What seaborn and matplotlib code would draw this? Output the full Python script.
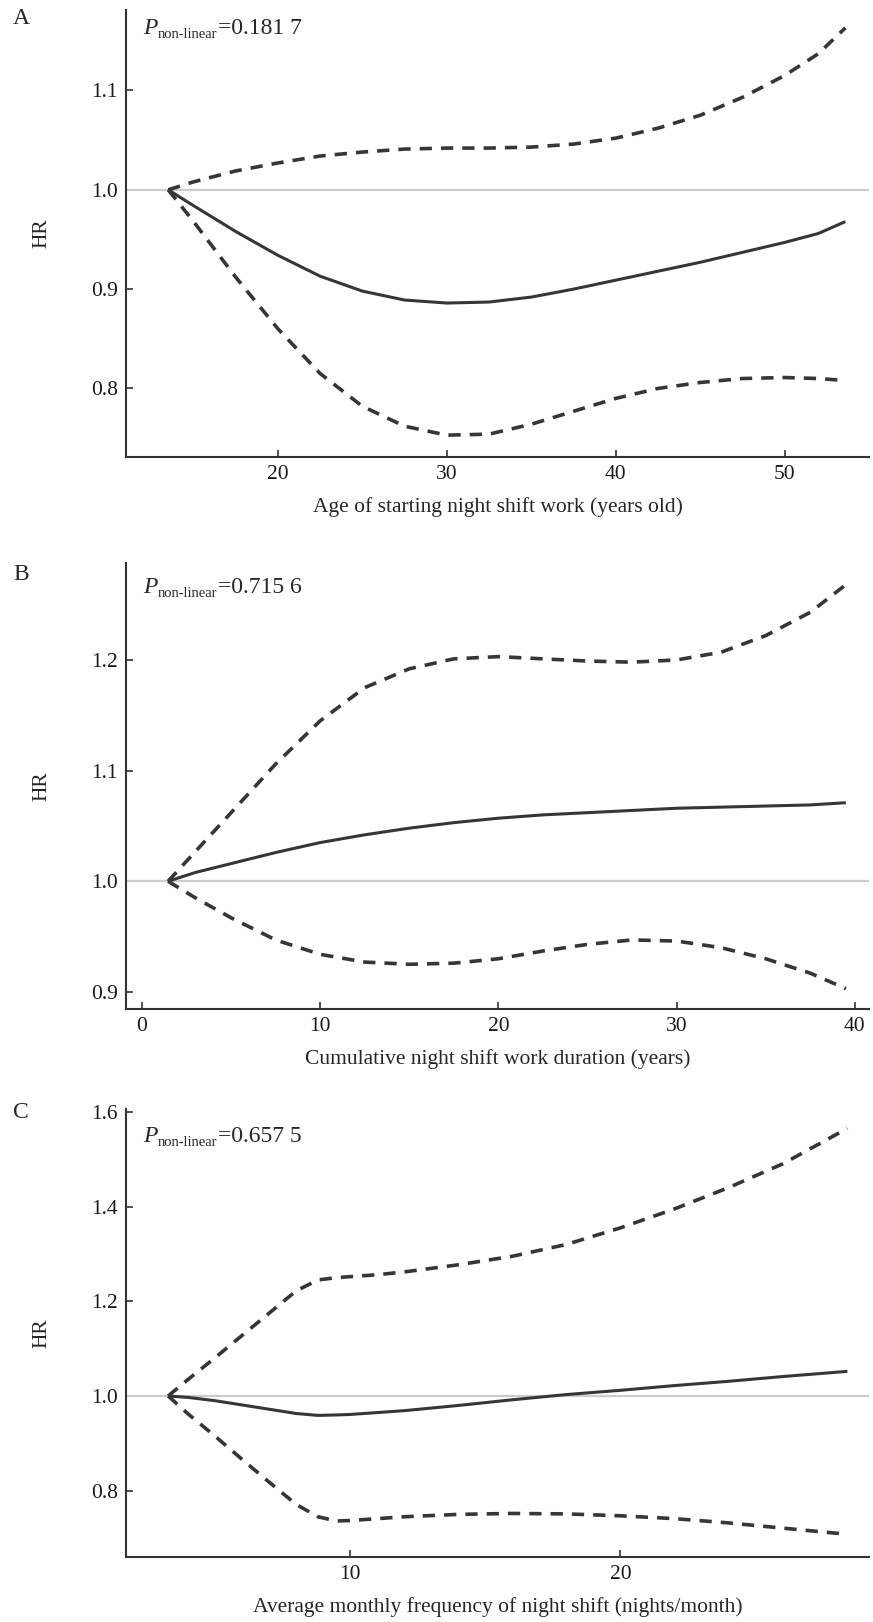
import matplotlib
matplotlib.use("Agg")
import matplotlib.pyplot as plt
import seaborn as sns

# Panel A: age of starting night shift work
age_x  = [13.5, 15, 17.5, 20, 22.5, 25, 27.5, 30, 32.5, 35, 37.5, 40, 42.5, 45, 47.5, 50, 52, 53.6]
age_hr = [1.0, 0.984, 0.958, 0.934, 0.913, 0.898, 0.889, 0.886, 0.887, 0.892, 0.900, 0.909,
          0.918, 0.927, 0.937, 0.947, 0.956, 0.968]
age_lo = [1.0, 0.968, 0.912, 0.860, 0.815, 0.782, 0.762, 0.753, 0.754, 0.764, 0.777, 0.790,
          0.800, 0.806, 0.810, 0.811, 0.810, 0.808]
age_hi = [1.0, 1.008, 1.019, 1.027, 1.034, 1.038, 1.041, 1.042, 1.042, 1.043, 1.046, 1.052,
          1.062, 1.075, 1.093, 1.115, 1.137, 1.163]

# Panel B: cumulative duration (years)
dur_x  = [1.46, 3, 5, 7.5, 10, 12.5, 15, 17.5, 20, 22.5, 25, 27.5, 30, 32.5, 35, 37.5, 39.5]
dur_hr = [1.0, 1.008, 1.016, 1.026, 1.035, 1.042, 1.048, 1.053, 1.057, 1.060, 1.062, 1.064,
          1.066, 1.067, 1.068, 1.069, 1.071]
dur_lo = [1.0, 0.985, 0.967, 0.947, 0.934, 0.927, 0.925, 0.926, 0.930, 0.937, 0.943, 0.947,
          0.946, 0.940, 0.930, 0.917, 0.903]
dur_hi = [1.0, 1.027, 1.062, 1.106, 1.145, 1.175, 1.192, 1.201, 1.203, 1.201, 1.199, 1.198,
          1.200, 1.207, 1.222, 1.243, 1.268]

# Panel C: monthly frequency (nights/month)
frq_x  = [3.26, 4, 5, 6, 7, 8, 8.8, 9.5, 10, 11, 12, 14, 16, 18, 20, 22, 24, 26, 28.4]
frq_hr = [1.0, 0.997, 0.990, 0.981, 0.972, 0.963, 0.959, 0.960, 0.961, 0.965, 0.969, 0.980,
          0.992, 1.003, 1.012, 1.022, 1.031, 1.041, 1.052]
frq_lo = [1.0, 0.962, 0.915, 0.866, 0.818, 0.771, 0.745, 0.736, 0.737, 0.741, 0.745, 0.750,
          0.752, 0.751, 0.747, 0.741, 0.732, 0.721, 0.708]
frq_hi = [1.0, 1.035, 1.081, 1.128, 1.175, 1.222, 1.245, 1.250, 1.252, 1.256, 1.262, 1.277,
          1.295, 1.320, 1.355, 1.395, 1.440, 1.490, 1.565]

sns.set_theme(style="ticks")
plt.rcParams.update({
    "font.family": ["Liberation Serif", "DejaVu Serif"],
    "axes.spines.top": False,
    "axes.spines.right": False,
    "axes.edgecolor": "#333333",
    "axes.linewidth": 1.5,
    "xtick.color": "#333333",
    "ytick.color": "#333333",
    "xtick.labelcolor": "#1a1a1a",
    "ytick.labelcolor": "#1a1a1a",
    "lines.solid_capstyle": "butt",
})

DARK = "#363636"
DASH = (0, (3.4, 2.5))
W, H = 873, 1622


def panel(fig, top, bottom, x, hr, lo, hi, xlim, ylim, xticks, yticks, xlabel, p_val, p_base):
    ax = fig.add_axes([126 / W, 1 - bottom / H, 743 / W, (bottom - top) / H])
    ax.axhline(1.0, color="#cccccc", lw=1.6, zorder=1)
    sns.lineplot(x=x, y=hi, ax=ax, color=DARK, lw=2.6, linestyle=DASH)
    sns.lineplot(x=x, y=lo, ax=ax, color=DARK, lw=2.6, linestyle=DASH)
    sns.lineplot(x=x, y=hr, ax=ax, color=DARK, lw=2.2)
    ax.set_xlim(*xlim)
    ax.set_ylim(*ylim)
    ax.set_xticks(xticks)
    ax.set_yticks(yticks)
    ax.set_yticklabels([f"{v:.1f}" for v in yticks])
    ax.tick_params(direction="in", length=5, width=1.2, labelsize=15.5, pad=6)
    ax.set_xlabel(xlabel, fontsize=15.5)
    ax.set_ylabel("HR", fontsize=15.5)
    h = bottom - top
    ax.xaxis.set_label_coords(0.5, -40 / h)
    ax.yaxis.set_label_coords(-0.1, 0.5)

    t1 = ax.text(0.023, p_base, "P", style="italic", fontsize=17,
                 va="baseline", transform=ax.transAxes)
    t2 = ax.annotate("non-linear", xy=(1, 0), xycoords=t1, xytext=(0.5, -1.5),
                     textcoords="offset points", fontsize=10.5, va="bottom")
    ax.annotate("=" + p_val, xy=(1, 0), xycoords=(t2, t1), xytext=(0, 0),
                textcoords="offset points", fontsize=17, va="bottom")
    return ax


fig = plt.figure(figsize=(W / 100, H / 100), dpi=100)

panel(fig, 10, 457, age_x, age_hr, age_lo, age_hi, (11.0, 55.0), (0.731, 1.181),
      [20, 30, 40, 50], [0.8, 0.9, 1.0, 1.1],
      "Age of starting night shift work (years old)", "0.181 7", 0.946)
panel(fig, 563, 1009, dur_x, dur_hr, dur_lo, dur_hi, (-0.9, 40.8), (0.8846, 1.2876),
      [0, 10, 20, 30, 40], [0.9, 1.0, 1.1, 1.2],
      "Cumulative night shift work duration (years)", "0.715 6", 0.933)
panel(fig, 1109, 1557, frq_x, frq_hr, frq_lo, frq_hi, (1.7, 29.2), (0.660, 1.606),
      [10, 20], [0.8, 1.0, 1.2, 1.4, 1.6],
      "Average monthly frequency of night shift (nights/month)", "0.657 5", 0.926)

for letter, yc in [("A", 18), ("B", 575), ("C", 1113)]:
    fig.text(21 / W, 1 - yc / H, letter, ha="center", va="center", fontsize=17)

fig.savefig("out.png", dpi=100)
